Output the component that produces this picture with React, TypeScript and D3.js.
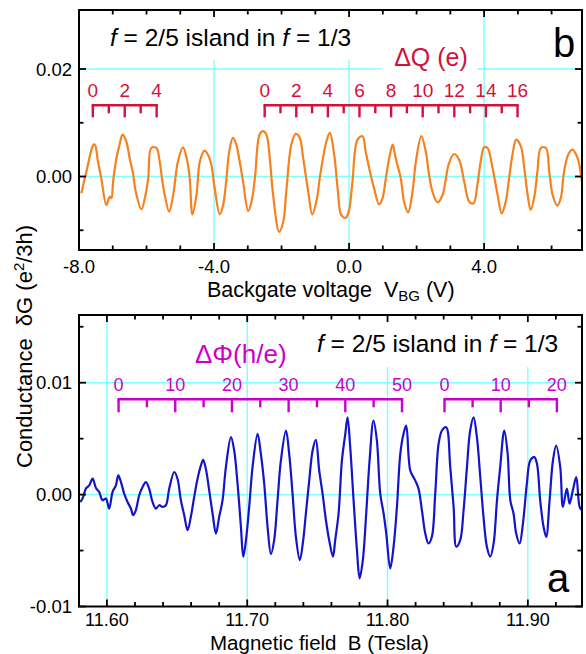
import React from 'react';
import * as d3 from 'd3';

const W = 586;
const H = 654;
const FONT = '"Liberation Sans", Arial, Helvetica, sans-serif';

// ---------- Panel b (top): dG vs backgate voltage ----------
const bgVoltage = [
  -7.93, -7.78, -7.58, -7.53, -7.44, -7.34, -7.19, -7.09, -7.04, -6.99,
  -6.89, -6.81, -6.71, -6.6, -6.5, -6.4, -6.32, -6.15, -6.05, -5.95,
  -5.86, -5.71, -5.61, -5.53, -5.46, -5.33, -5.21, -5.07, -4.92, -4.8,
  -4.72, -4.64, -4.52, -4.42, -4.28, -4.18, -4.08, -3.98, -3.83, -3.73,
  -3.63, -3.55, -3.44, -3.34, -3.24, -3.14, -2.99, -2.89, -2.79, -2.65,
  -2.55, -2.45, -2.35, -2.25, -2.07, -1.95, -1.86, -1.71, -1.58, -1.46,
  -1.36, -1.21, -1.09, -0.95, -0.87, -0.67, -0.57,
  -0.44, -0.34, -0.23, -0.1, 0.0, 0.1, 0.25, 0.4, 0.49, 0.64,
  0.74, 0.89, 0.99, 1.09, 1.19, 1.29, 1.38, 1.53, 1.63, 1.75,
  1.88, 1.98, 2.14, 2.27, 2.37, 2.47, 2.62, 2.77, 2.87, 2.96,
  3.11, 3.26, 3.41, 3.56, 3.69, 3.8, 3.9, 4.0, 4.1, 4.25,
  4.4, 4.52, 4.64, 4.74, 4.84, 4.95, 5.09, 5.19, 5.29, 5.38,
  5.48, 5.58, 5.68, 5.83, 5.93, 6.03, 6.17, 6.27, 6.37, 6.49,
  6.62, 6.77, 6.87, 6.92,
];
// conductance change, in units of 1e-3 e^2/3h
const dGbMilli = [
  -3.11, 0.94, 5.81, 5.94, 2.81, -0.31, -5.3, -3.74, -4.05, -0.93,
  3.44, 5.62, 7.81, 6.56, 3.44, 0.63, -2.8, -6.11, -4.05, -0.31,
  5.31, 5.31, 2.81, -0.93, -3.43, -6.55, -3.43, 2.81, 5.44, 3.13,
  -0.31, -7.05, -3.43, 2.81, 4.81, 4.06, 2.19, -2.18, -7.05, -5.3,
  -0.31, 4.69, 7.18, 5.94, 2.81, -0.93, -6.42, -4.68, -0.31, 7.81,
  8.43, 7.81, 3.44, -3.43, -10.29, -8.42, -2.8, 5.94, 7.93, 7.18,
  3.44, -2.8, -7.05, -4.05, -0.31, 6.56, 8.12,
  4.06, -2.18, -7.17, -7.67, -6.24, -0.93, 6.87, 7.5, 4.69, 0.32,
  -2.18, -5.17, -4.05, -0.31, 3.44, 5.94, 3.44, -0.31, -4.68, -6.67,
  -2.8, 2.81, 7.5, 4.69, 0.32, -2.8, -4.8, -3.43, -0.31, 2.5,
  4.19, 3.13, -0.93, -4.68, -4.99, -1.55, 2.81, 5.44, 5.31, 1.57,
  -3.43, -6.86, -4.68, -0.31, 4.06, 6.87, 5.62, 1.57, -3.43, -6.24,
  -4.05, 0.94, 5.31, 5.31, 0.94, -3.43, -5.42, -4.05, 0.94, 4.06,
  5.0, 3.44, 0.32, -2.3,
];
const topXMajor = [-8, -4, 0, 4];
const topXLabels = ['-8.0', '-4.0', '0.0', '4.0'];
const topXMinor = [-7, -6, -5, -3, -2, -1, 1, 2, 3, 5, 6];
const topYMajor = [0, 0.02];
const topYLabels = ['0.00', '0.02'];
const topYMinor = [-0.01, 0.01];
const topXGrid = [-4, 0, 4];
const topYGrid = [0, 0.02];
const dQBracketStart = [-7.59, -2.5];
const dQBracketEnd = [-5.7, 4.99];
const dQBracketMax = [4, 16];

// ---------- Panel a (bottom): dG vs magnetic field ----------
const field = [
  11.581, 11.5826, 11.585, 11.5874, 11.5898, 11.5921, 11.5945, 11.5969, 11.5993, 11.6016,
  11.604, 11.6064, 11.6081, 11.61, 11.6123, 11.6147, 11.6171, 11.6187, 11.6206, 11.623,
  11.6254, 11.6278, 11.6301, 11.6325, 11.6349, 11.6373, 11.6397, 11.642, 11.6444, 11.648,
  11.6503, 11.6527, 11.6551, 11.6575, 11.6598, 11.6622, 11.6646, 11.667, 11.6686, 11.6705,
  11.6729, 11.6753, 11.6777, 11.68, 11.6824, 11.6848, 11.6884, 11.6907, 11.6931, 11.6955,
  11.6972, 11.6991, 11.7014, 11.7038, 11.7074, 11.7097, 11.7121, 11.7145, 11.7169, 11.7192,
  11.7216, 11.724, 11.7276, 11.7299, 11.7323, 11.7347, 11.7375, 11.7399, 11.7418, 11.7442,
  11.7466, 11.7489, 11.7513, 11.7537, 11.7561, 11.7584,
  11.7611, 11.7627, 11.7651, 11.7675, 11.7699, 11.7715, 11.7734, 11.7758, 11.7782, 11.7801,
  11.7824, 11.7848, 11.7872, 11.79, 11.7924, 11.7948, 11.7972, 11.7991, 11.8019, 11.8043,
  11.8067, 11.8091, 11.8114, 11.8133, 11.8162, 11.8197, 11.8221, 11.8245, 11.8269, 11.8292,
  11.8316, 11.834, 11.8364, 11.8388, 11.8418, 11.8447, 11.8471, 11.849, 11.8518, 11.8542,
  11.8566, 11.8589, 11.8613, 11.8637, 11.8661, 11.8684, 11.8708, 11.8732, 11.8756, 11.878,
  11.8803, 11.8832, 11.8856, 11.8875, 11.8898, 11.8917, 11.8941, 11.8965, 11.8993, 11.9017,
  11.9046, 11.9065, 11.9088, 11.9112, 11.9131, 11.9155, 11.9179, 11.9202, 11.9231, 11.925,
  11.9278, 11.9297, 11.9321, 11.9345, 11.9369, 11.9385,
];
const dGaMilli = [
  -0.66, -0.36, 0.53, 0.83, 1.42, 0.62, 0.23, -0.51, -0.36, -1.25,
  0.23, 0.83, 1.72, 1.12, 0.09, -0.66, -1.25, -1.84, -1.4, -0.06,
  0.68, 1.12, 0.53, -0.66, -1.25, -0.95, -1.1, -0.95, 0.53, 2.02,
  1.42, -0.51, -1.84, -3.18, -1.99, -0.21, 1.42, 2.61, 3.11, 2.31,
  0.38, -1.69, -3.48, -1.99, -0.51, 2.46, 5.13, 3.94, 0.98, -2.88,
  -5.55, -4.07, -1.1, 2.46, 5.43, 3.65, 0.98, -2.88, -5.32, -4.07,
  -0.51, 3.05, 5.73, 3.65, 0.09, -3.77, -5.85, -4.07, -1.69, 1.27,
  3.94, 4.89, 2.16, 0.09, -2.29, -4.07,
  -5.55, -4.07, -1.69, 3.05, 5.43, 6.91, 4.24, -0.51, -4.96, -7.48,
  -5.85, -1.69, 3.05, 6.62, 4.84, 0.09, -1.69, -3.48, -6.59, -4.66,
  -1.1, 3.65, 5.43, 6.17, 2.16, 1.27, 0.53, -1.4, -3.48, -4.37,
  -3.77, 0.09, 4.54, 5.73, 6.02, 2.46, -1.1, -4.66, -4.07, -1.4,
  2.46, 5.73, 6.91, 5.13, 1.57, -1.99, -4.66, -5.55, -4.37, -0.51,
  2.46, 5.73, 3.65, -0.51, -1.69, -3.48, -4.37, -2.59, 0.98, 3.05,
  3.35, 2.76, -0.51, -2.88, -3.77, -0.51, 3.05, 4.39, 2.46, -1.1,
  0.53, -0.8, 0.38, 1.57, -1.1, -1.4,
];
const botXMajor = [11.6, 11.7, 11.8, 11.9];
const botXLabels = ['11.60', '11.70', '11.80', '11.90'];
const botXMinor = [11.62, 11.64, 11.66, 11.68, 11.72, 11.74, 11.76, 11.78, 11.82, 11.84, 11.86, 11.88, 11.92];
const botYMajor = [-0.01, 0, 0.01];
const botYLabels = ['-0.01', '0.00', '0.01'];
const botYMinor = [-0.005, 0.005, 0.015];
const botXGrid = [11.6, 11.7, 11.8, 11.9];
const botYGrid = [0, 0.01];
const dPhiBracketStart = [11.6083, 11.8406];
const dPhiBracketEnd = [11.8103, 11.9207];
const dPhiBracketMax = [50, 20];

const ORANGE = '#f5821f';
const BLUE = '#1414c8';
const RED = '#d0123c';
const MAGENTA = '#cc00cc';
const GRID = '#80ffff';

const TOP = { x0: 79, x1: 582, y0: 10, y1: 250 };
const BOT = { x0: 79, x1: 582, y0: 315, y1: 606.5 };

export default function App() {
  const xT = d3.scaleLinear().domain([-8, 6.9]).range([TOP.x0, TOP.x1]);
  const yT = d3.scaleLinear().domain([-0.01367, 0.03098]).range([TOP.y1, TOP.y0]);
  const xB = d3.scaleLinear().domain([11.5801, 11.9386]).range([BOT.x0, BOT.x1]);
  const yB = d3.scaleLinear().domain([-0.01, 0.01605]).range([BOT.y1, BOT.y0]);

  const topData = bgVoltage.map((v, i) => [v, dGbMilli[i] / 1000] as [number, number]);
  const botData = field.map((b, i) => [b, dGaMilli[i] / 1000] as [number, number]);

  const lineT = d3
    .line<[number, number]>()
    .x((d) => xT(d[0]))
    .y((d) => yT(d[1]))
    .curve(d3.curveCatmullRom.alpha(0.5));
  const lineB = d3
    .line<[number, number]>()
    .x((d) => xB(d[0]))
    .y((d) => yB(d[1]))
    .curve(d3.curveCatmullRom.alpha(0.5));

  const MAJ = 7;
  const MIN = 4.5;

  const axisTicks = (
    P: typeof TOP,
    xs: d3.ScaleLinear<number, number>,
    ys: d3.ScaleLinear<number, number>,
    xMaj: number[],
    xMin: number[],
    yMaj: number[],
    yMin: number[],
    key: string
  ) => {
    const els: React.ReactElement[] = [];
    const add = (x1: number, y1: number, x2: number, y2: number, k: string) =>
      els.push(<line key={key + k} x1={x1} y1={y1} x2={x2} y2={y2} stroke="#000" strokeWidth={1.8} />);
    xMaj.forEach((v, i) => {
      add(xs(v), P.y1, xs(v), P.y1 - MAJ, 'xb' + i);
      add(xs(v), P.y0, xs(v), P.y0 + MAJ, 'xt' + i);
    });
    xMin.forEach((v, i) => {
      add(xs(v), P.y1, xs(v), P.y1 - MIN, 'xbm' + i);
      add(xs(v), P.y0, xs(v), P.y0 + MIN, 'xtm' + i);
    });
    yMaj.forEach((v, i) => {
      add(P.x0, ys(v), P.x0 + MAJ, ys(v), 'yl' + i);
      add(P.x1, ys(v), P.x1 - MAJ, ys(v), 'yr' + i);
    });
    yMin.forEach((v, i) => {
      add(P.x0, ys(v), P.x0 + MIN, ys(v), 'ylm' + i);
      add(P.x1, ys(v), P.x1 - MIN, ys(v), 'yrm' + i);
    });
    return els;
  };

  const bracket = (
    x0: number,
    x1: number,
    max: number,
    labelStep: number,
    minorStep: number,
    yLine: number,
    majLen: number,
    minLen: number,
    labelY: number,
    color: string,
    fontSize: number,
    key: string
  ) => {
    const s = d3.scaleLinear().domain([0, max]).range([x0, x1]);
    const minors = d3.range(0, max + 0.001, minorStep);
    return (
      <g key={key}>
        <line x1={s(0) - 1.2} x2={s(max) + 1.2} y1={yLine} y2={yLine} stroke={color} strokeWidth={2.6} />
        {minors.map((v, i) => {
          const isMaj = Math.abs(v / labelStep - Math.round(v / labelStep)) < 1e-6;
          return (
            <line
              key={i}
              x1={s(v)}
              x2={s(v)}
              y1={yLine}
              y2={yLine + (isMaj ? majLen : minLen)}
              stroke={color}
              strokeWidth={2.4}
            />
          );
        })}
        {d3.range(0, max + 0.001, labelStep).map((v, i) => (
          <text key={'l' + i} x={s(v)} y={labelY} textAnchor="middle" fontSize={fontSize} fill={color}>
            {String(v)}
          </text>
        ))}
      </g>
    );
  };

  return (
    <svg
      width={W}
      height={H}
      style={{ position: 'absolute', left: 0, top: 0, background: '#fff' }}
      fontFamily={FONT}
    >
      <defs>
        <clipPath id="clipT">
          <rect x={TOP.x0} y={TOP.y0} width={TOP.x1 - TOP.x0} height={TOP.y1 - TOP.y0} />
        </clipPath>
        <clipPath id="clipB">
          <rect x={BOT.x0} y={BOT.y0} width={BOT.x1 - BOT.x0} height={BOT.y1 - BOT.y0} />
        </clipPath>
      </defs>
      <rect x={0} y={0} width={W} height={H} fill="#fff" />

      {/* ---------- Panel b ---------- */}
      <g clipPath="url(#clipT)">
        {topXGrid.map((v, i) => (
          <line key={'tgx' + i} x1={xT(v)} x2={xT(v)} y1={TOP.y0} y2={TOP.y1} stroke={GRID} strokeWidth={1.4} />
        ))}
        {topYGrid.map((v, i) => (
          <line key={'tgy' + i} x1={TOP.x0} x2={TOP.x1} y1={yT(v)} y2={yT(v)} stroke={GRID} strokeWidth={1.4} />
        ))}
        <rect x={96} y={TOP.y0} width={264} height={50} fill="#fff" />
        <rect x={381} y={40} width={96} height={34} fill="#fff" />
        <path d={lineT(topData) || ''} fill="none" stroke={ORANGE} strokeWidth={2.2} strokeLinejoin="round" />
      </g>
      <text x={110} y={46} fontSize={24.5} fill="#000">
        <tspan fontStyle="italic">f</tspan>
        {' = 2/5 island in '}
        <tspan fontStyle="italic">f</tspan>
        {' = 1/3'}
      </text>
      <text x={431} y={66} fontSize={25} textAnchor="middle" fill={RED}>
        ΔQ (e)
      </text>
      <text x={553} y={57} fontSize={40} fill="#000">
        b
      </text>
      {dQBracketStart.map((s, i) =>
        bracket(xT(s), xT(dQBracketEnd[i]), dQBracketMax[i], 2, 1, 105.3, 12, 8, 97, RED, 19, 'q' + i)
      )}
      <rect
        x={TOP.x0}
        y={TOP.y0}
        width={TOP.x1 - TOP.x0}
        height={TOP.y1 - TOP.y0}
        fill="none"
        stroke="#000"
        strokeWidth={2}
      />
      {axisTicks(TOP, xT, yT, topXMajor, topXMinor, topYMajor, topYMinor, 't')}
      {topXMajor.map((v, i) => (
        <text key={'txl' + i} x={xT(v)} y={273} fontSize={18.5} textAnchor="middle">
          {topXLabels[i]}
        </text>
      ))}
      {topYMajor.map((v, i) => (
        <text key={'tyl' + i} x={72} y={yT(v) + 6.5} fontSize={18.5} textAnchor="end">
          {topYLabels[i]}
        </text>
      ))}
      <text x={207} y={297} fontSize={21.5}>
        {'Backgate voltage\u00A0\u00A0V'}
        <tspan fontSize={15} dy={4}>
          BG
        </tspan>
        <tspan dy={-4}>{'\u00A0(V)'}</tspan>
      </text>

      {/* ---------- Y label shared ---------- */}
      <text transform="translate(32,468) rotate(-90)" fontSize={22}>
        {'Conductance\u00A0\u00A0δG (e'}
        <tspan fontSize={15} dy={-8}>
          2
        </tspan>
        <tspan dy={8}>/3h)</tspan>
      </text>

      {/* ---------- Panel a ---------- */}
      <g clipPath="url(#clipB)">
        {botXGrid.map((v, i) => (
          <line key={'bgx' + i} x1={xB(v)} x2={xB(v)} y1={BOT.y0} y2={BOT.y1} stroke={GRID} strokeWidth={1.4} />
        ))}
        {botYGrid.map((v, i) => (
          <line key={'bgy' + i} x1={BOT.x0} x2={BOT.x1} y1={yB(v)} y2={yB(v)} stroke={GRID} strokeWidth={1.4} />
        ))}
        <rect x={305} y={BOT.y0} width={272} height={52} fill="#fff" />
        <path d={lineB(botData) || ''} fill="none" stroke={BLUE} strokeWidth={2.2} strokeLinejoin="round" />
      </g>
      <text x={317} y={352} fontSize={24.5} fill="#000">
        <tspan fontStyle="italic">f</tspan>
        {' = 2/5 island in '}
        <tspan fontStyle="italic">f</tspan>
        {' = 1/3'}
      </text>
      <text x={195} y={363} fontSize={26} fill={MAGENTA}>
        ΔΦ(h/e)
      </text>
      {dPhiBracketStart.map((s, i) =>
        bracket(xB(s), xB(dPhiBracketEnd[i]), dPhiBracketMax[i], 10, 5, 399.3, 13, 8, 391, MAGENTA, 18, 'p' + i)
      )}
      <text x={547} y={592} fontSize={40} fill="#000">
        a
      </text>
      <rect
        x={BOT.x0}
        y={BOT.y0}
        width={BOT.x1 - BOT.x0}
        height={BOT.y1 - BOT.y0}
        fill="none"
        stroke="#000"
        strokeWidth={2}
      />
      {axisTicks(BOT, xB, yB, botXMajor, botXMinor, botYMajor, botYMinor, 'b')}
      {botXMajor.map((v, i) => (
        <text key={'bxl' + i} x={xB(v)} y={626} fontSize={18} textAnchor="middle">
          {botXLabels[i]}
        </text>
      ))}
      {botYMajor.map((v, i) => (
        <text key={'byl' + i} x={72} y={yB(v) + 6.5} fontSize={18.5} textAnchor="end">
          {botYLabels[i]}
        </text>
      ))}
      <text x={210} y={649.5} fontSize={20.5}>
        {'Magnetic field\u00A0\u00A0B (Tesla)'}
      </text>
    </svg>
  );
}
